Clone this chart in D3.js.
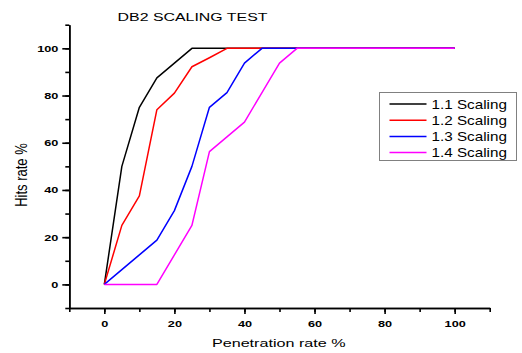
<!DOCTYPE html>
<html>
<head>
<meta charset="utf-8">
<script src="https://cdn.jsdelivr.net/npm/d3@7"></script>
<style>
  body { margin: 0; background: #fff; }
  text { font-family: "Liberation Sans", Arial, sans-serif; }
</style>
</head>
<body>
<div id="canvas"></div>
<script>
// Data
var penetration = [0, 5, 10, 15, 20, 25, 30, 35, 40, 45, 50, 55, 100]
var series_names = ["1.1 Scaling", "1.2 Scaling", "1.3 Scaling", "1.4 Scaling"]
var hits_11 = [0, 50, 75, 87.5, 93.75, 100, 100, 100, 100, 100, 100, 100, 100]
var hits_12 = [0, 25, 37.5, 74, 81, 92.2, 96, 100, 100, 100, 100, 100, 100]
var hits_13 = [0, 6.25, 12.5, 18.75, 31.25, 50, 75, 81.25, 93.75, 100, 100, 100, 100]
var hits_14 = [0, 0, 0, 0, 12.5, 25, 56.25, 62.5, 68.75, 81.25, 93.75, 100, 100]
var x_ticks = [0, 20, 40, 60, 80, 100]
var y_ticks = [0, 20, 40, 60, 80, 100]
var series_colours = ["#000000", "#ff0000", "#0000ff", "#ff00ff"]

// Display variables
var total_width = 522, total_height = 353

var svg = d3.select("#canvas").append("svg").attr("width", total_width).attr("height", total_height)

var x = d3.scaleLinear().domain([-10, 110]).range([69.3, 489.7])
var y = d3.scaleLinear().domain([-10, 110]).range([308, 24.7])

// Minor ticks (every 10)
var minor = d3.range(-10, 111, 10)
svg.append("g")
    .attr("transform", "translate(0," + y(-10) + ")")
    .call(d3.axisBottom(x).tickValues(minor).tickSize(4).tickSizeOuter(0).tickFormat(""))
svg.append("g")
    .attr("transform", "translate(" + x(-10) + ",0)")
    .call(d3.axisLeft(y).tickValues(minor).tickSize(4).tickSizeOuter(0).tickFormat(""))

// Major ticks with labels
var x_axis = svg.append("g")
    .attr("transform", "translate(0," + y(-10) + ")")
    .call(d3.axisBottom(x).tickValues(x_ticks).tickSize(6).tickSizeOuter(0).tickPadding(6))
var y_axis = svg.append("g")
    .attr("transform", "translate(" + x(-10) + ",0)")
    .call(d3.axisLeft(y).tickValues(y_ticks).tickSize(7).tickSizeOuter(0).tickPadding(4))

svg.selectAll(".domain, .tick line").attr("stroke", "#000").attr("stroke-width", 1.6)
x_axis.selectAll("text")
    .style("font-size", "9.4px").style("font-weight", "bold").attr("fill", "#000")
    .attr("transform", "scale(1.35,1)")
y_axis.selectAll("text")
    .style("font-size", "9.4px").style("font-weight", "bold").attr("fill", "#000")
    .attr("x", -11 / 1.35)
    .attr("transform", "scale(1.35,1)")

// Lines
var all_hits = [hits_11, hits_12, hits_13, hits_14]
var line = d3.line().x(d => x(d[0])).y(d => y(d[1]))
all_hits.forEach(function(h, i) {
    svg.append("path")
        .datum(penetration.map((p, j) => [p, h[j]]))
        .attr("fill", "none")
        .attr("stroke", series_colours[i])
        .attr("stroke-width", 1.5)
        .attr("stroke-linejoin", "round")
        .attr("d", line)
})

// Title and axis labels (source image is widened horizontally)
svg.append("text")
    .attr("transform", "translate(192.5,20.7) scale(1.36,1)")
    .attr("text-anchor", "middle")
    .style("font-size", "11.7px")
    .text("DB2 SCALING TEST")
svg.append("text")
    .attr("transform", "translate(278.7,346.7) scale(1.38,1)")
    .attr("text-anchor", "middle")
    .style("font-size", "11.7px")
    .text("Penetration rate %")
svg.append("text")
    .attr("transform", "translate(27,175) scale(1.2,1) rotate(-90)")
    .attr("text-anchor", "middle")
    .style("font-size", "13px")
    .text("Hits rate %")

// Legend
var legend = svg.append("g").attr("transform", "translate(379.5,92.5)")
legend.append("rect")
    .attr("width", 137).attr("height", 68)
    .attr("fill", "#fff").attr("stroke", "#808080").attr("stroke-width", 1)
series_names.forEach(function(name, i) {
    var ly = 11.5 + i * 16.2
    legend.append("line")
        .attr("x1", 10).attr("x2", 47).attr("y1", ly).attr("y2", ly)
        .attr("stroke", series_colours[i]).attr("stroke-width", 1.5)
    legend.append("text")
        .attr("transform", "translate(52," + (ly + 4.5) + ") scale(1.22,1)")
        .style("font-size", "12.5px")
        .text(name)
})
</script>
</body>
</html>
